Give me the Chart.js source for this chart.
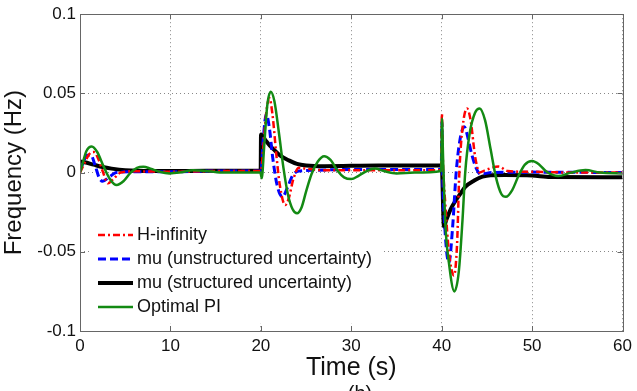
<!DOCTYPE html>
<html>
<head>
<meta charset="utf-8">
<title>Frequency response</title>
<script src="https://cdn.jsdelivr.net/npm/chart.js@4"></script>
<style>
  html, body { margin: 0; padding: 0; background: #fff; }
  #wrap { width: 637px; height: 391px; position: relative; }
</style>
</head>
<body>
<div id="wrap"><canvas id="myChart"></canvas></div>
<script>
// series: time (s) and frequency (Hz)
const hinfTime = [0, 0.5, 1.0, 1.5, 2.0, 2.5, 3.1, 3.7, 4.5, 6, 10, 15, 19.95,
  20.0, 20.3, 20.6, 20.95, 21.3, 21.7, 22.1, 22.7, 23.1, 23.6, 24.2, 25, 27, 32, 36, 39.95,
  40.02, 40.12, 40.4, 40.8, 41.35, 41.7, 41.95, 42.3, 42.8, 43.2, 43.7, 44.2, 44.8, 46.3, 47.3, 50, 55, 60];
const hinfFreq = [0, 0.006, 0.0115, 0.013, 0.009, 0.001, -0.0068, -0.004, 0, 0.0008, 0.0005, 0.001, 0.001,
  0.001, 0.018, 0.038, 0.047, 0.036, 0.012, -0.008, -0.0205, -0.016, -0.004, 0.003, 0.0025, 0.0015, 0.0015, 0.0015, 0.0015,
  0.037, 0.01, -0.02, -0.05, -0.065, -0.045, 0, 0.028, 0.0405, 0.033, 0.01, 0, 0.0015, 0.0038, 0.001, 0.0005, 0, 0];

const muUnsTime = [0, 0.4, 0.8, 1.2, 1.7, 2.1, 2.5, 3.2, 4, 6, 10, 15, 19.95,
  20.0, 20.25, 20.6, 20.95, 21.3, 21.8, 22.4, 22.9, 23.5, 24.2, 26, 30, 39.95,
  40.02, 40.1, 40.35, 40.8, 41.2, 41.6, 42.0, 42.5, 42.9, 43.3, 43.8, 44.3, 45.5, 50, 60];
const muUnsFreq = [0.001, 0.007, 0.011, 0.011, 0.004, -0.003, -0.0055, -0.003, 0, 0.0005, 0.0005, 0.001, 0.001,
  0, 0.02, 0.037, 0.028, 0.01, -0.008, -0.0153, -0.01, -0.002, 0.001, 0.0015, 0.002, 0.002,
  0.032, 0, -0.035, -0.057, -0.035, 0, 0.02, 0.029, 0.022, 0.012, 0.003, -0.001, 0, 0.0003, 0];

const muStrTime = [0, 0.5, 1.5, 2.5, 3.5, 5, 8, 12, 16, 19.98,
  20.02, 20.5, 21.0, 21.5, 22.2, 23.0, 24.0, 25.0, 27, 33, 40.0,
  40.25, 40.5, 41.0, 41.5, 42.1, 42.6, 43.6, 44.5, 45.4, 47, 50, 52, 60];
const muStrFreq = [0.007, 0.0065, 0.005, 0.0035, 0.0025, 0.0015, 0.001, 0.001, 0.0012, 0.0012,
  0.024, 0.0205, 0.017, 0.0142, 0.0105, 0.008, 0.0055, 0.0045, 0.004, 0.0045, 0.0045,
  -0.034, -0.03, -0.023, -0.018, -0.0131, -0.009, -0.005, -0.0026, -0.0016, -0.0015, -0.0018, -0.0028, -0.003];

const piTime = [0, 0.3, 0.7, 1.3, 1.9, 2.6, 3.3, 4.05, 4.8, 5.6, 6.3, 7.0, 7.8, 8.8, 9.9, 11, 12.5, 14, 16, 18, 19.95,
  20.1, 20.35, 20.7, 21.1, 21.5, 22.0, 22.5, 23.0, 23.5, 24.0, 24.5, 25.0, 25.6, 26.3, 27.0, 27.7, 28.5, 29.2, 30.0,
  30.8, 31.7, 32.6, 33.6, 35, 37, 39.95,
  40.03, 40.15, 40.4, 40.8, 41.4, 41.9, 42.3, 42.6, 43.1, 43.7, 44.2, 44.8, 45.4, 46.0, 46.6, 47.1, 47.8, 48.5, 49.2,
  50.0, 50.8, 51.6, 52.9, 54.3, 55.9, 57.5, 60];
const piFreq = [0, 0.006, 0.0135, 0.0165, 0.013, 0.004, -0.004, -0.0079, -0.0055, 0, 0.003, 0.0037, 0.0025, 0.0005, -0.0005, 0, 0.0015, 0.001, 0, 0, 0,
  -0.0035, 0.015, 0.042, 0.051, 0.045, 0.025, 0.003, -0.014, -0.023, -0.0257, -0.022, -0.012, -0.001, 0.007, 0.0104, 0.008, 0.001, -0.003, -0.0041,
  -0.002, 0.001, 0.0026, 0.001, -0.0005, 0, 0.001,
  0.034, 0.01, -0.032, -0.057, -0.075, -0.062, -0.03, 0, 0.025, 0.038, 0.0405, 0.033, 0.015, -0.003, -0.0135, -0.0153, -0.011, -0.002, 0.005,
  0.0073, 0.005, 0.0005, -0.0022, 0, 0.0016, 0, -0.0005];

const xTicks = [0, 10, 20, 30, 40, 50, 60];
const yTickLabels = { '-0.1': '-0.1', '-0.05': '-0.05', '0': '0', '0.05': '0.05', '0.1': '0.1' };

const toPoints = (times, values) => times.map((t, i) => ({ x: t, y: values[i] }));

Chart.defaults.font.family = '"Liberation Sans", Arial, sans-serif';
Chart.defaults.color = '#111';

// matlab style box with inward ticks
const boxPlugin = {
  id: 'boxPlugin',
  afterDraw(chart) {
    const { ctx, chartArea: a, scales } = chart;
    ctx.save();
    ctx.strokeStyle = '#666';
    ctx.lineWidth = 1;
    ctx.beginPath();
    scales.x.ticks.forEach((tk) => {
      const px = Math.round(scales.x.getPixelForValue(tk.value)) + 0.5;
      ctx.moveTo(px, a.bottom); ctx.lineTo(px, a.bottom - 5);
      ctx.moveTo(px, a.top); ctx.lineTo(px, a.top + 5);
    });
    scales.y.ticks.forEach((tk) => {
      const py = Math.round(scales.y.getPixelForValue(tk.value)) + 0.5;
      ctx.moveTo(a.left, py); ctx.lineTo(a.left + 5, py);
      ctx.moveTo(a.right, py); ctx.lineTo(a.right - 5, py);
    });
    ctx.stroke();
    ctx.strokeRect(Math.round(a.left) + 0.5, Math.round(a.top) + 0.5, Math.round(a.right - a.left), Math.round(a.bottom - a.top));

    ctx.fillStyle = '#111';
    ctx.font = '20px "Liberation Sans", Arial, sans-serif';
    ctx.textAlign = 'center';
    ctx.textBaseline = 'top';
    ctx.fillText('(b)', 360, 384);
    ctx.restore();
  },
};

// legend inside the axes, lower left, white background, no frame
const insideLegend = {
  id: 'insideLegend',
  afterDatasetsDraw(chart) {
    const { ctx, chartArea: a } = chart;
    const rowH = 24;
    const x0 = a.left + 18;
    const y0 = 235;
    ctx.save();
    ctx.fillStyle = '#fff';
    ctx.fillRect(a.left + 10, y0 - 14, 294, rowH * 4 + 6);
    ctx.font = '18px "Liberation Sans", Arial, sans-serif';
    ctx.textBaseline = 'middle';
    chart.data.datasets.forEach((ds, i) => {
      const y = y0 + i * rowH;
      ctx.strokeStyle = ds.borderColor;
      ctx.lineWidth = ds.borderWidth;
      ctx.setLineDash(ds.borderDash || []);
      ctx.beginPath();
      ctx.moveTo(x0, y);
      ctx.lineTo(x0 + 35, y);
      ctx.stroke();
      ctx.setLineDash([]);
      ctx.fillStyle = '#111';
      ctx.fillText(ds.label, x0 + 39, y);
    });
    ctx.restore();
  },
};

const ctx = document.getElementById('myChart').getContext('2d');

const myChart = new Chart(ctx, {
  type: 'line',
  data: {
    datasets: [
      {
        label: 'H-infinity',
        data: toPoints(hinfTime, hinfFreq),
        borderColor: '#ff0000',
        borderWidth: 2.5,
        borderDash: [7, 3, 2, 3],
        order: 1,
      },
      {
        label: 'mu (unstructured uncertainty)',
        data: toPoints(muUnsTime, muUnsFreq),
        borderColor: '#0000ff',
        borderWidth: 3,
        borderDash: [8, 4],
        order: 2,
      },
      {
        label: 'mu (structured uncertainty)',
        data: toPoints(muStrTime, muStrFreq),
        borderColor: '#000000',
        borderWidth: 4,
        order: 3,
      },
      {
        label: 'Optimal PI',
        data: toPoints(piTime, piFreq),
        borderColor: '#138a13',
        borderWidth: 2.5,
        order: 0,
      },
    ],
  },
  options: {
    responsive: true,
    maintainAspectRatio: false,
    animation: false,
    events: [],
    layout: { padding: { left: 0, right: 13, top: 14, bottom: 0 } },
    elements: {
      point: { radius: 0 },
      line: { cubicInterpolationMode: 'monotone', fill: false },
    },
    plugins: {
      legend: { display: false },
      tooltip: { enabled: false },
    },
    scales: {
      x: {
        type: 'linear',
        min: 0,
        max: 60,
        afterFit: (scale) => { scale.height = 60; },
        afterBuildTicks: (scale) => { scale.ticks = xTicks.map((v) => ({ value: v })); },
        grid: { color: '#888', lineWidth: 1, drawTicks: false },
        border: { display: false, dash: [1, 3] },
        ticks: { font: { size: 17 }, padding: 5, maxRotation: 0 },
        title: { display: true, text: 'Time (s)', font: { size: 25 }, padding: { top: 0, bottom: 8 } },
      },
      y: {
        type: 'linear',
        min: -0.1,
        max: 0.1,
        afterFit: (scale) => { scale.width = 80; },
        afterBuildTicks: (scale) => {
          scale.ticks = Object.keys(yTickLabels).map((k) => ({ value: Number(k) }));
        },
        grid: { color: '#888', lineWidth: 1, drawTicks: false },
        border: { display: false, dash: [1, 3] },
        ticks: {
          font: { size: 17 },
          padding: 4,
          callback: (v) => yTickLabels[String(Math.round(v * 100) / 100)],
        },
        title: { display: true, text: 'Frequency (Hz)', font: { size: 24 }, padding: { top: 0, bottom: 0 } },
      },
    },
  },
  plugins: [insideLegend, boxPlugin],
});
</script>
</body>
</html>
